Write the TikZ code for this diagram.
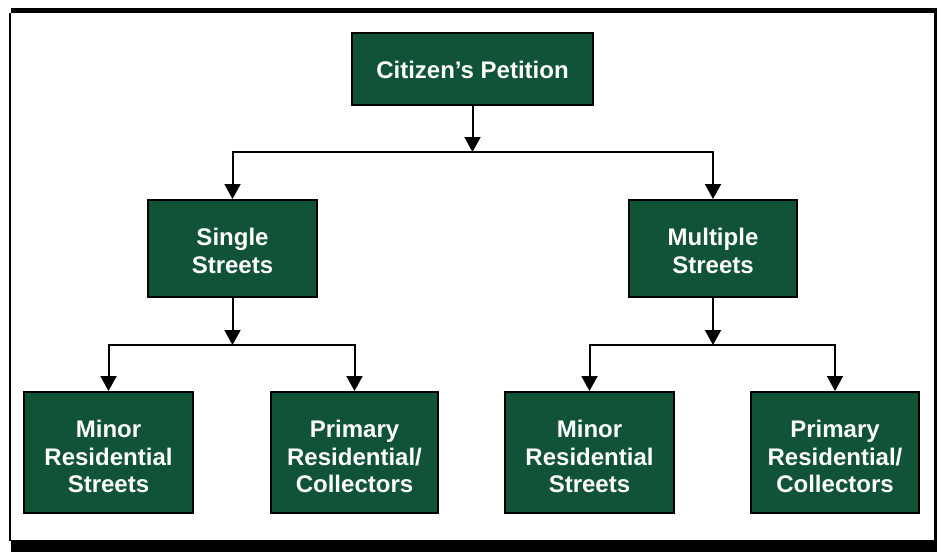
\documentclass[tikz,border=0pt]{standalone}
\usepackage{fontspec}
\setmainfont{Liberation Sans}
\usetikzlibrary{arrows.meta}
\definecolor{boxgreen}{RGB}{16,83,54}
\newcommand\toppad[1][26pt]{\rule{0pt}{#1}}
\begin{document}
\begin{tikzpicture}[x=1pt,y=-1pt,
  box/.style={draw=black,line width=2pt,fill=boxgreen,text=white,align=center,
    inner sep=0pt,font=\fontsize{24}{27.5}\selectfont\bfseries},
  link/.style={line width=2pt,-{Triangle[width=16pt,length=15pt]}}]
\useasboundingbox (0,0) rectangle (937,552);
% frame
\fill [white] (9,8) rectangle (937,552);
\fill [black] (11,8) rectangle (937,13);
\fill [black] (934,8) rectangle (937,552);
\fill [black] (11,540) rectangle (937,552);
\fill [black] (9,13) rectangle (11,541);
% boxes
\node [box,minimum width=241pt,minimum height=72pt] (petition) at (472.5,69) {\toppad[19pt]Citizen’s Petition};
\node [box,minimum width=169pt,minimum height=97pt] (single) at (232.5,248.5) {\toppad[22pt]Single\\Streets};
\node [box,minimum width=168pt,minimum height=97pt] (multiple) at (713,248.5) {\toppad[22pt]Multiple\\Streets};
\node [box,minimum width=169pt,minimum height=121pt] (minorA) at (108.5,452.5) {\toppad Minor\\Residential\\Streets};
\node [box,minimum width=167pt,minimum height=121pt] (primaryA) at (354.5,452.5) {\toppad Primary\\Residential/\\Collectors};
\node [box,minimum width=169pt,minimum height=121pt] (minorB) at (589.5,452.5) {\toppad Minor\\Residential\\Streets};
\node [box,minimum width=168pt,minimum height=121pt] (primaryB) at (835,452.5) {\toppad Primary\\Residential/\\Collectors};
\coordinate (splitTop) at (472.5,152);
\coordinate (splitSingle) at (232.5,345);
\coordinate (splitMultiple) at (713,345);
% connectors
\draw [link] (petition) -- (splitTop);
\draw [link] (splitTop) -| (single);
\draw [link] (splitTop) -| (multiple);
\draw [link] (single) -- (splitSingle);
\draw [link] (splitSingle) -| (minorA);
\draw [link] (splitSingle) -| (primaryA);
\draw [link] (multiple) -- (splitMultiple);
\draw [link] (splitMultiple) -| (minorB);
\draw [link] (splitMultiple) -| (primaryB);
\end{tikzpicture}
\end{document}
